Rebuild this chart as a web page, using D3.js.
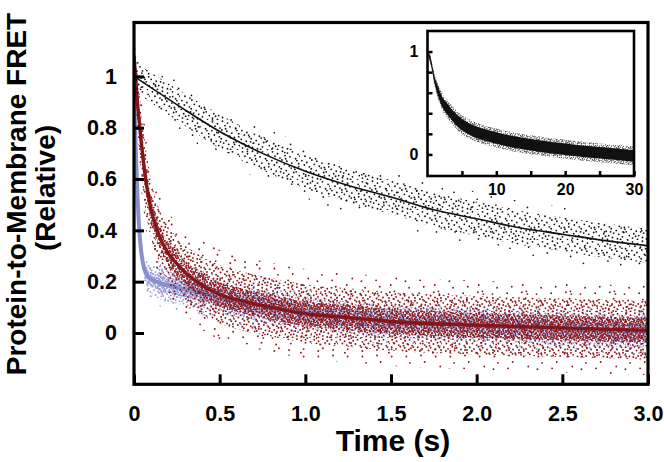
<!DOCTYPE html>
<html><head><meta charset="utf-8">
<script src="https://cdn.jsdelivr.net/npm/d3@7"></script>
<style>
body{margin:0;background:#fff}
text{font-family:"Liberation Sans",Arial,Helvetica,sans-serif;font-weight:bold;fill:#000}
</style></head>
<body><svg id="c" width="664" height="462"></svg>
<script>
// ---------- data ----------
const xTicks = [0, 0.5, 1.0, 1.5, 2.0, 2.5, 3.0];
const yTicks = [0, 0.2, 0.4, 0.6, 0.8, 1];
const insetXTicks = [5, 10, 15, 20, 25, 30];
const insetXLabels = [10, 20, 30];
const insetYTicks = [0, 0.2, 0.4, 0.6, 0.8, 1];
const insetYLabels = [0, 1];

// black series (slow decay): time, fitted curve, cloud half-width
const blackT      = [0, 0.25, 0.5, 0.75, 1.0, 1.25, 1.5, 1.75, 2.0, 2.25, 2.5, 2.75, 3.0];
const blackFit    = [1.0, 0.89, 0.785, 0.70, 0.63, 0.575, 0.53, 0.48, 0.445, 0.41, 0.385, 0.36, 0.34];
const blackSpread = [0.06, 0.065, 0.07, 0.07, 0.07, 0.07, 0.07, 0.07, 0.07, 0.07, 0.07, 0.07, 0.07];

// red series (fast decay)
const redT      = [0, 0.02, 0.04, 0.06, 0.08, 0.1, 0.13, 0.16, 0.2, 0.25, 0.3, 0.4, 0.5, 0.6, 0.8, 1.0, 1.25, 1.5, 2.0, 2.5, 3.0];
const redFit    = [1.08, 0.9, 0.76, 0.64, 0.55, 0.48, 0.41, 0.36, 0.31, 0.27, 0.235, 0.185, 0.15, 0.13, 0.1, 0.075, 0.06, 0.045, 0.03, 0.02, 0.01];
const redSpread = [0.1, 0.12, 0.13, 0.13, 0.13, 0.12, 0.11, 0.11, 0.11, 0.11, 0.11, 0.12, 0.12, 0.12, 0.12, 0.12, 0.12, 0.12, 0.12, 0.12, 0.12];

// blue series (very fast decay)
const blueT      = [0, 0.01, 0.02, 0.03, 0.04, 0.05, 0.06, 0.08, 0.1, 0.15, 0.2, 0.3, 0.4, 0.5, 0.6, 0.8, 1.0, 1.25, 1.5, 2.0, 2.5, 3.0];
const blueFit    = [0.95, 0.72, 0.54, 0.41, 0.33, 0.28, 0.25, 0.22, 0.21, 0.195, 0.185, 0.17, 0.155, 0.14, 0.125, 0.1, 0.08, 0.06, 0.045, 0.03, 0.015, 0.005];
const blueSpread = [0.03, 0.03, 0.04, 0.04, 0.05, 0.05, 0.05, 0.06, 0.06, 0.07, 0.07, 0.07, 0.07, 0.07, 0.07, 0.07, 0.07, 0.07, 0.07, 0.07, 0.07, 0.07];

// inset (0-30 s)
const insetT      = [0, 0.5, 1, 1.5, 2, 3, 4, 5, 6, 8, 10, 13, 16, 20, 25, 30];
const insetFit    = [1.0, 0.9, 0.73, 0.62, 0.53, 0.43, 0.35, 0.29, 0.25, 0.195, 0.16, 0.115, 0.085, 0.05, 0.015, -0.015];
const insetSpread = [0.03, 0.04, 0.05, 0.06, 0.07, 0.075, 0.08, 0.08, 0.08, 0.08, 0.08, 0.08, 0.08, 0.08, 0.08, 0.08];

// ---------- styles ----------
// dot texture used to render the scatter clouds (a 48x48 tile, scaled per pattern)
const DOTS = [[3,2],[11,5],[19,1],[27,4],[35,2],[44,6],[7,9],[15,12],[23,8],[31,10],[40,13],[47,9],
  [2,16],[10,19],[18,15],[26,17],[34,20],[42,16],[6,23],[14,26],[22,22],[30,25],[38,27],[45,21],
  [1,30],[9,33],[17,29],[25,32],[33,28],[41,34],[5,37],[13,40],[21,36],[29,38],[37,35],[46,40],
  [3,44],[11,46],[19,43],[27,45],[35,42],[43,47],[8,41],[24,13],[39,30],[16,34],[32,46],[45,26]];
const C = {red:"#8a181c", redLine:"#7a1216", blue:"#959ad6", blueLine:"#8a8fcb", black:"#111"};

const svg = d3.select("#c");
const defs = svg.append("defs");
const L = 134, R = 648, T = 22.5, B = 384.3;
const x = d3.scaleLinear().domain([0, 3]).range([L, R]);
const y = d3.scaleLinear().domain([-0.2, 1.21]).range([B, T]);

defs.append("clipPath").attr("id","plotclip").append("rect")
  .attr("x", L).attr("y", T).attr("width", R-L).attr("height", B-T);

function pattern(id, color, tile, n, r, ox, oy, step){
  const p = defs.append("pattern").attr("id", id).attr("patternUnits","userSpaceOnUse")
    .attr("width", tile).attr("height", tile)
    .attr("patternTransform", `translate(${ox},${oy})`);
  DOTS.filter((d,i) => i % step === 0).slice(0, n).forEach(([a,b]) => p.append("circle")
    .attr("cx", a*tile/48 + 0.6).attr("cy", b*tile/48 + 0.6).attr("r", r).attr("fill", color));
}
pattern("blkSparse", C.black, 56, 14, 0.85, 3, 5, 2);
pattern("blkMid", C.black, 30, 48, 0.9, 0, 0, 1);
pattern("redSparse", C.red, 44, 24, 0.95, 7, 2, 2);
pattern("redMid", C.red, 26, 48, 0.95, 0, 0, 1);
pattern("redDense", C.red, 16, 48, 0.95, 4, 6, 1);
pattern("bluSparse", C.blue, 40, 24, 0.95, 11, 9, 2);
pattern("bluMid", C.blue, 23, 48, 0.95, 5, 3, 1);
pattern("bluDense", C.blue, 14, 48, 0.95, 2, 7, 1);
pattern("insMid", C.black, 12, 48, 0.6, 0, 0, 1);

function band(xs, ys, T_, F, S, k){
  return d3.area().x((d,i)=>xs(T_[i])).y0((d,i)=>ys(F[i]-S[i]*k)).y1((d,i)=>ys(F[i]+S[i]*k))
    .curve(d3.curveMonotoneX)(T_);
}
function curve(xs, ys, T_, F){
  return d3.line().x((d,i)=>xs(T_[i])).y((d,i)=>ys(F[i])).curve(d3.curveMonotoneX)(T_);
}

const plot = svg.append("g").attr("clip-path","url(#plotclip)");
// blue
plot.append("path").attr("d", band(x,y,blueT,blueFit,blueSpread,1.3)).attr("fill","url(#bluSparse)");
plot.append("path").attr("d", band(x,y,blueT,blueFit,blueSpread,0.9)).attr("fill","url(#bluMid)");
plot.append("path").attr("d", band(x,y,blueT,blueFit,blueSpread,0.45)).attr("fill","url(#bluDense)");
plot.append("path").attr("d", curve(x,y,blueT,blueFit)).attr("fill","none")
  .attr("stroke", C.blueLine).attr("stroke-width", 4);
// red: fitted line drawn under its own cloud, as in the reference
plot.append("path").attr("d", curve(x,y,redT,redFit)).attr("fill","none")
  .attr("stroke", C.redLine).attr("stroke-width", 3.4);
plot.append("path").attr("d", band(x,y,redT,redFit,redSpread,1.45)).attr("fill","url(#redSparse)");
plot.append("path").attr("d", band(x,y,redT,redFit,redSpread,0.95)).attr("fill","url(#redMid)");
plot.append("path").attr("d", band(x,y,redT,redFit,redSpread,0.4)).attr("fill","url(#redDense)");
// black
plot.append("path").attr("d", band(x,y,blackT,blackFit,blackSpread,1.5)).attr("fill","url(#blkSparse)");
plot.append("path").attr("d", band(x,y,blackT,blackFit,blackSpread,0.95)).attr("fill","url(#blkMid)");
plot.append("path").attr("d", curve(x,y,blackT,blackFit)).attr("fill","none")
  .attr("stroke", C.black).attr("stroke-width", 1.6);

// ---------- inset ----------
const iL = 427.5, iR = 634, iT = 31, iB = 176;
const ix = d3.scaleLinear().domain([0, 30]).range([iL, iR]);
const iy = d3.scaleLinear().domain([-0.21, 1.2]).range([iB, iT]);
svg.append("rect").attr("x", iL).attr("y", iT).attr("width", iR-iL).attr("height", iB-iT).attr("fill","#fff");
defs.append("clipPath").attr("id","insclip").append("rect")
  .attr("x", iL).attr("y", iT).attr("width", iR-iL).attr("height", iB-iT);
const ins = svg.append("g").attr("clip-path","url(#insclip)");
ins.append("path").attr("d", band(ix,iy,insetT,insetFit,insetSpread,1.15)).attr("fill","url(#insMid)");
ins.append("path").attr("d", band(ix,iy,insetT,insetFit,insetSpread,0.7)).attr("fill", C.black);

const iax = svg.append("g").attr("transform", `translate(0,${iB})`)
  .call(d3.axisBottom(ix).tickValues(insetXTicks).tickSize(-5).tickPadding(8)
    .tickFormat(d => insetXLabels.includes(d) ? d : ""));
const iay = svg.append("g").attr("transform", `translate(${iL},0)`)
  .call(d3.axisLeft(iy).tickValues(insetYTicks).tickSize(-5).tickPadding(9)
    .tickFormat(d => insetYLabels.includes(d) ? d : ""));
[iax, iay].forEach(g => {
  g.select(".domain").remove();
  g.selectAll(".tick line").attr("stroke","#000").attr("stroke-width", 2.5);
  g.selectAll(".tick text").style("font-size","16px").style("font-weight","bold")
   .style("font-family",'"Liberation Sans",Arial,sans-serif').attr("fill","#000");
});
svg.append("rect").attr("x", iL).attr("y", iT).attr("width", iR-iL).attr("height", iB-iT)
  .attr("fill","none").attr("stroke","#000").attr("stroke-width", 2.6);

// ---------- main axes ----------
const gx = svg.append("g").attr("transform", `translate(0,${B})`)
  .call(d3.axisBottom(x).tickValues(xTicks).tickSize(-10).tickPadding(21)
    .tickFormat(d => d === 0 ? "0" : d3.format(".1f")(d)));
const gy = svg.append("g").attr("transform", `translate(${L},0)`)
  .call(d3.axisLeft(y).tickValues(yTicks).tickSize(-10).tickPadding(17)
    .tickFormat(d => d === 0 || d === 1 ? String(d) : d3.format(".1f")(d)));
[gx, gy].forEach(g => {
  g.select(".domain").remove();
  g.selectAll(".tick line").attr("stroke","#000").attr("stroke-width", 3);
  g.selectAll(".tick text").style("font-size","21.5px").style("font-weight","bold")
   .style("font-family",'"Liberation Sans",Arial,sans-serif').attr("fill","#000");
});
svg.append("rect").attr("x", L).attr("y", T).attr("width", R-L).attr("height", B-T)
  .attr("fill","none").attr("stroke","#000").attr("stroke-width", 3.2);

// ---------- titles ----------
svg.append("text").attr("x", (L+R)/2 + 2).attr("y", 451).attr("text-anchor","middle")
  .style("font-size","30px").text("Time (s)");
svg.append("text").attr("transform","translate(26,194) rotate(-90)").attr("text-anchor","middle")
  .style("font-size","28px").text("Protein-to-Membrane FRET");
svg.append("text").attr("transform","translate(55,188) rotate(-90)").attr("text-anchor","middle")
  .style("font-size","28px").text("(Relative)");
</script></body></html>
